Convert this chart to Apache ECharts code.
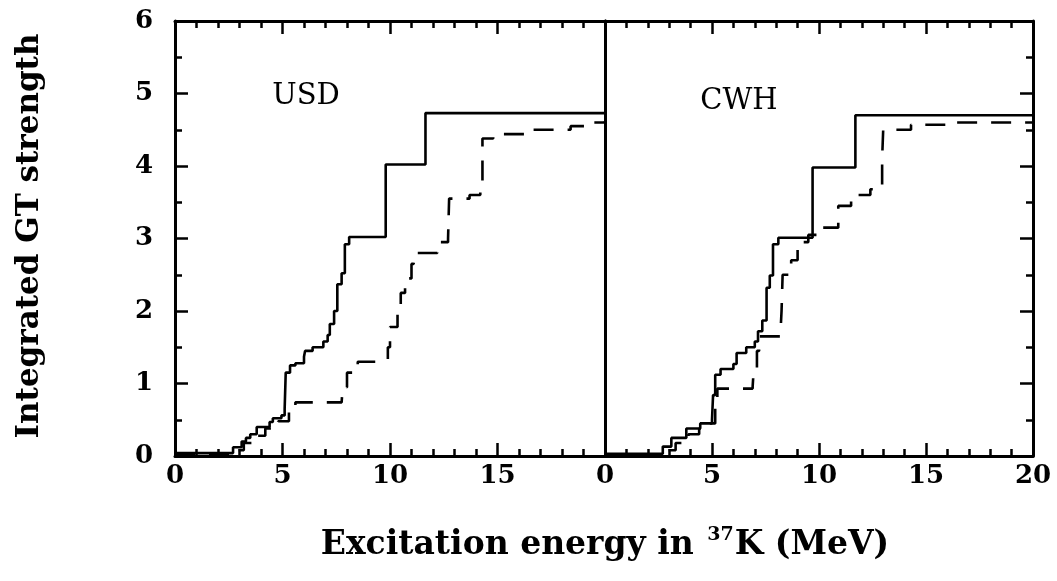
<!DOCTYPE html>
<html>
<head>
<meta charset="utf-8">
<script src="https://cdn.jsdelivr.net/npm/echarts@6/dist/echarts.min.js"></script>
<style>html,body{margin:0;padding:0;background:#fff;}#c{width:1057px;height:581px;}</style>
</head>
<body>
<div id="c"></div>
<script>
// Step points [excitation energy (MeV), integrated GT strength after the step]
const usdSolid = [[0,0.04],[2.7,0.12],[3.1,0.2],[3.3,0.25],[3.5,0.3],[3.8,0.4],[4.4,0.47],[4.55,0.52],[4.95,0.56],[5.1,0.65],[5.15,1.15],[5.35,1.25],[5.6,1.28],[6.0,1.37],[6.05,1.45],[6.4,1.5],[6.9,1.58],[7.1,1.67],[7.2,1.82],[7.4,2.0],[7.55,2.37],[7.75,2.52],[7.9,2.92],[8.1,3.02],[9.8,4.02],[11.65,4.73],[20,4.73]];
const usdDashed = [[0,0.02],[2.6,0.08],[3.2,0.18],[3.6,0.28],[4.2,0.38],[4.8,0.48],[5.3,0.62],[5.6,0.74],[7.75,0.76],[7.8,0.95],[8.0,1.15],[8.5,1.3],[9.6,1.32],[9.9,1.5],[10.0,1.78],[10.35,1.95],[10.5,2.25],[10.7,2.45],[11.0,2.65],[11.1,2.8],[12.2,2.95],[12.7,3.0],[12.75,3.55],[13.7,3.6],[14.2,3.75],[14.3,4.38],[14.8,4.44],[16.5,4.5],[18.4,4.55],[19.3,4.6],[20,4.62]];
const cwhSolid = [[0,0.03],[2.7,0.13],[3.1,0.25],[3.8,0.38],[4.45,0.45],[5.0,0.5],[5.05,0.84],[5.15,1.12],[5.4,1.2],[6.0,1.27],[6.15,1.42],[6.6,1.5],[7.0,1.58],[7.15,1.72],[7.35,1.87],[7.55,2.32],[7.7,2.49],[7.85,2.92],[8.1,3.01],[9.7,3.98],[11.7,4.7],[20,4.7]];
const cwhDashed = [[0,0.02],[2.8,0.08],[3.3,0.18],[3.9,0.3],[4.4,0.38],[4.9,0.45],[5.15,0.75],[5.25,0.93],[6.9,0.96],[6.95,1.2],[7.1,1.45],[7.2,1.65],[8.2,1.7],[8.25,2.0],[8.3,2.5],[8.7,2.7],[9.0,2.95],[9.5,3.05],[10.1,3.15],[10.9,3.45],[11.5,3.6],[12.4,3.68],[12.95,4.1],[13.0,4.5],[14.3,4.57],[16.0,4.6],[20,4.6]];
const panelNames = ['USD', 'CWH'];
const xTickLabels = [0, 5, 10, 15, 20];
const yTickLabels = [0, 1, 2, 3, 4, 5, 6];
const yTitle = 'Integrated GT strength';

const chart = echarts.init(document.getElementById('c'));
const serif = '"DejaVu Serif", serif';
const lineW = 3;

function xAx(gi, pos, showLabels, hideLast) {
  return {
    type: 'value', gridIndex: gi, position: pos, min: 0, max: 20, interval: 5,
    axisLine: { show: true, onZero: false, lineStyle: { color: '#000', width: lineW } },
    axisTick: { show: true, inside: true, length: 13, lineStyle: { color: '#000', width: 2.5 } },
    minorTick: { show: true, splitNumber: 5, length: 7, lineStyle: { color: '#000', width: 2.5 } },
    splitLine: { show: false }, minorSplitLine: { show: false },
    axisLabel: {
      show: showLabels, color: '#000', fontFamily: serif, fontWeight: 'bold', fontSize: 26, margin: 7,
      formatter: v => (hideLast && v === 20) ? '' : (xTickLabels.indexOf(v) >= 0 ? String(v) : '')
    }
  };
}
function yAx(gi, pos, showLabels, showTicks) {
  return {
    type: 'value', gridIndex: gi, position: pos, min: 0, max: 6, interval: 1,
    axisLine: { show: true, onZero: false, lineStyle: { color: '#000', width: lineW } },
    axisTick: { show: showTicks, inside: true, length: 13, lineStyle: { color: '#000', width: 2.5 } },
    minorTick: { show: showTicks, splitNumber: 2, length: 7, lineStyle: { color: '#000', width: 2.5 } },
    splitLine: { show: false }, minorSplitLine: { show: false },
    axisLabel: { show: showLabels, color: '#000', fontFamily: serif, fontWeight: 'bold', fontSize: 26, margin: 22,
      formatter: v => (yTickLabels.indexOf(v) >= 0 ? String(v) : '') }
  };
}
function stepSeries(data, xi, yi, dashed) {
  return {
    type: 'line', xAxisIndex: xi, yAxisIndex: yi, data: data, step: 'end', symbol: 'none',
    lineStyle: { color: '#000', width: 2.6, type: dashed ? [20, 14] : 'solid' },
    animation: false
  };
}

chart.setOption({
  backgroundColor: '#fff',
  animation: false,
  grid: [
    { left: 175, top: 21, width: 430, height: 435 },
    { left: 605, top: 21, width: 428, height: 435 }
  ],
  xAxis: [
    xAx(0, 'bottom', true, true),
    xAx(0, 'top', false, false),
    xAx(1, 'bottom', true, false),
    xAx(1, 'top', false, false)
  ],
  yAxis: [
    yAx(0, 'left', true, true),
    yAx(0, 'right', false, false),
    yAx(1, 'left', false, false),
    yAx(1, 'right', false, true)
  ],
  series: [
    stepSeries(usdSolid, 0, 0, false),
    stepSeries(usdDashed, 0, 0, true),
    stepSeries(cwhSolid, 2, 2, false),
    stepSeries(cwhDashed, 2, 2, true)
  ],
  graphic: [
    { type: 'text', x: 306, y: 96, style: { text: panelNames[0], font: '29px ' + serif, fill: '#000', textAlign: 'center', textVerticalAlign: 'middle' } },
    { type: 'text', x: 739, y: 101, style: { text: panelNames[1], font: '29px ' + serif, fill: '#000', textAlign: 'center', textVerticalAlign: 'middle' } },
    { type: 'text', x: 30, y: 236, rotation: Math.PI / 2,
      style: { text: yTitle, font: 'bold 31px ' + serif, fill: '#000', textAlign: 'center', textVerticalAlign: 'middle' } },
    { type: 'text', x: 605, y: 545,
      style: {
        text: '{n|Excitation energy in }{s|37}{n|K (MeV)}',
        textAlign: 'center', textVerticalAlign: 'middle', fill: '#000',
        rich: {
          n: { fontFamily: serif, fontWeight: 'bold', fontSize: 33, fill: '#000', lineHeight: 38 },
          s: { fontFamily: serif, fontWeight: 'bold', fontSize: 19, fill: '#000', lineHeight: 38, verticalAlign: 'top', padding: [0, 1, 16, 2] }
        }
      } }
  ]
});
</script>
</body>
</html>
